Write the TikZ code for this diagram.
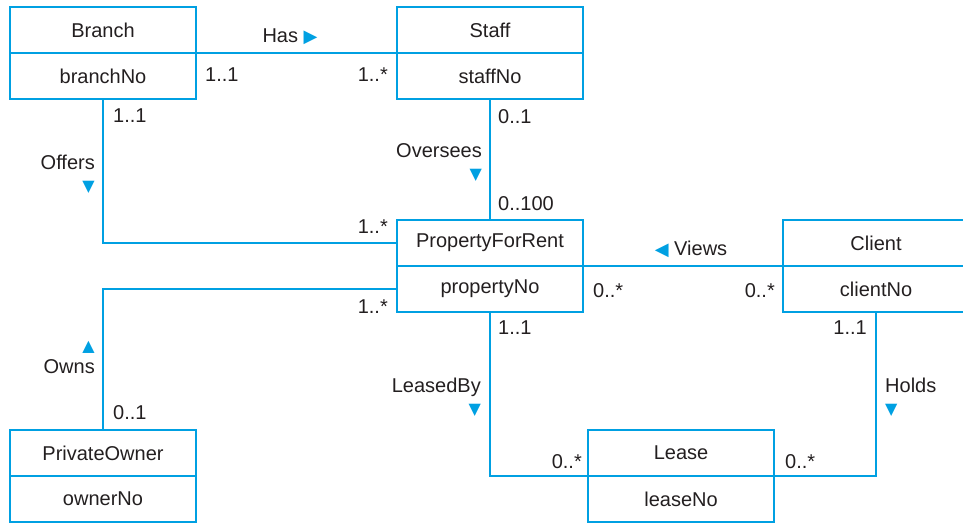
\documentclass[tikz,border=0pt]{standalone}
\usepackage{fontspec}
\setmainfont{Liberation Sans}
\newfontfamily\symfont{DejaVu Sans}
\usepackage{xcolor}
\usepackage{tikz}
\usetikzlibrary{positioning}
\definecolor{umlBlue}{HTML}{00A0E2}
\definecolor{umlText}{HTML}{231F20}
\newcommand{\tri}[2][16]{{\symfont\fontsize{#1}{#1}\selectfont\color{umlBlue}#2}}
\tikzset{
  classhead/.style={draw=umlBlue, line width=1.6pt, minimum width=186pt,
                    minimum height=46pt, outer sep=0pt, inner sep=0pt,
                    text=umlText},
  classattr/.style={classhead},
  assoc/.style={draw=umlBlue, line width=1.6pt},
  mult/.style={inner sep=0pt, text=umlText},
  verb/.style={inner sep=0pt, text=umlText},
}

\begin{document}
\begin{tikzpicture}[x=1pt, y=1pt, font=\fontsize{20}{22}\selectfont]
\def\xL{103}    % x of left column
\def\xM{490}    % x of middle column
\def\xR{876}    % x of right column
\def\xLease{681}
\def\yTop{493}  % y of top row headers
\def\yMid{280}  % y of middle row headers
\def\yBot{70}   % y of bottom row headers
\useasboundingbox (0,0) rectangle (963,523);

%% Classes
\node[classhead] (branch) at (\xL, \yTop) {Branch};
\node[classattr, below=0pt of branch] (branchNo) {branchNo};
\node[classhead] (staff) at (\xM, \yTop) {Staff};
\node[classattr, below=0pt of staff] (staffNo) {staffNo};
\node[classhead] (pfr) at (\xM, \yMid) {PropertyForRent};
\node[classattr, below=0pt of pfr] (pfrNo) {propertyNo};
\node[classhead] (client) at (\xR, \yMid) {Client};
\node[classattr, below=0pt of client] (clientNo) {clientNo};
\node[classhead] (owner) at (\xL, \yBot) {PrivateOwner};
\node[classattr, below=0pt of owner] (ownerNo) {ownerNo};
\node[classhead] (lease) at (\xLease, \yBot) {Lease};
\node[classattr, below=0pt of lease] (leaseNo) {leaseNo};

%% Associations
\draw[assoc] (branch.south east) -- (staff.south west);
\draw[assoc] (branchNo.south) |- (pfr.west);
\draw[assoc] (staffNo.south) -- (pfr.north);
\draw[assoc] (pfr.south east) -- (client.south west);
\draw[assoc] (pfrNo.west) -| (owner.north);
\draw[assoc] (pfrNo.south) |- (lease.south west);
\draw[assoc] (clientNo.south) |- (lease.south east);

%% Association names
\node[verb] (hasLbl) at (290, 486) {Has \tri[18]{▶}};
\node[verb, align=right, anchor=east] (offersLbl) at (95, 349) {Offers\\\tri{▼}};
\node[verb, align=right, anchor=east] (overseesLbl) at (482, 360) {Oversees\\\tri{▼}};
\node[verb] (viewsLbl) at (691, 274) {\tri[18]{◀} Views};
\node[verb, align=right, anchor=east] (ownsLbl) at (95, 166) {\tri{▲}\\Owns};
\node[verb, align=right, anchor=east] (leasedLbl) at (481, 126) {LeasedBy\\\tri{▼}};
\node[verb, align=left, anchor=west] (holdsLbl) at (885, 126) {Holds\\\tri{▼}};

%% Multiplicities
\node[mult, below right=15pt and 9pt of branch.south east] {1..1};
\node[mult, below left=15pt and 9pt of staff.south west] {1..*};
\node[mult, below right=10pt and 10pt of branchNo.south] {1..1};
\node[mult, above left=9pt and 9pt of pfr.west] {1..*};
\node[mult, below right=10pt and 8pt of staffNo.south] {0..1};
\node[mult, above right=9pt and 8pt of pfr.north] {0..100};
\node[mult, below right=17pt and 10pt of pfr.south east] {0..*};
\node[mult, below left=17pt and 8pt of client.south west] {0..*};
\node[mult, below left=11pt and 9pt of pfrNo.west] {1..*};
\node[mult, above right=10pt and 10pt of owner.north] {0..1};
\node[mult, below right=9pt and 8pt of pfrNo.south] {1..1};
\node[mult, above left=7pt and 6pt of lease.south west] {0..*};
\node[mult, below left=9pt and 9pt of clientNo.south] {1..1};
\node[mult, above right=7pt and 11pt of lease.south east] {0..*};
\end{tikzpicture}
\end{document}
